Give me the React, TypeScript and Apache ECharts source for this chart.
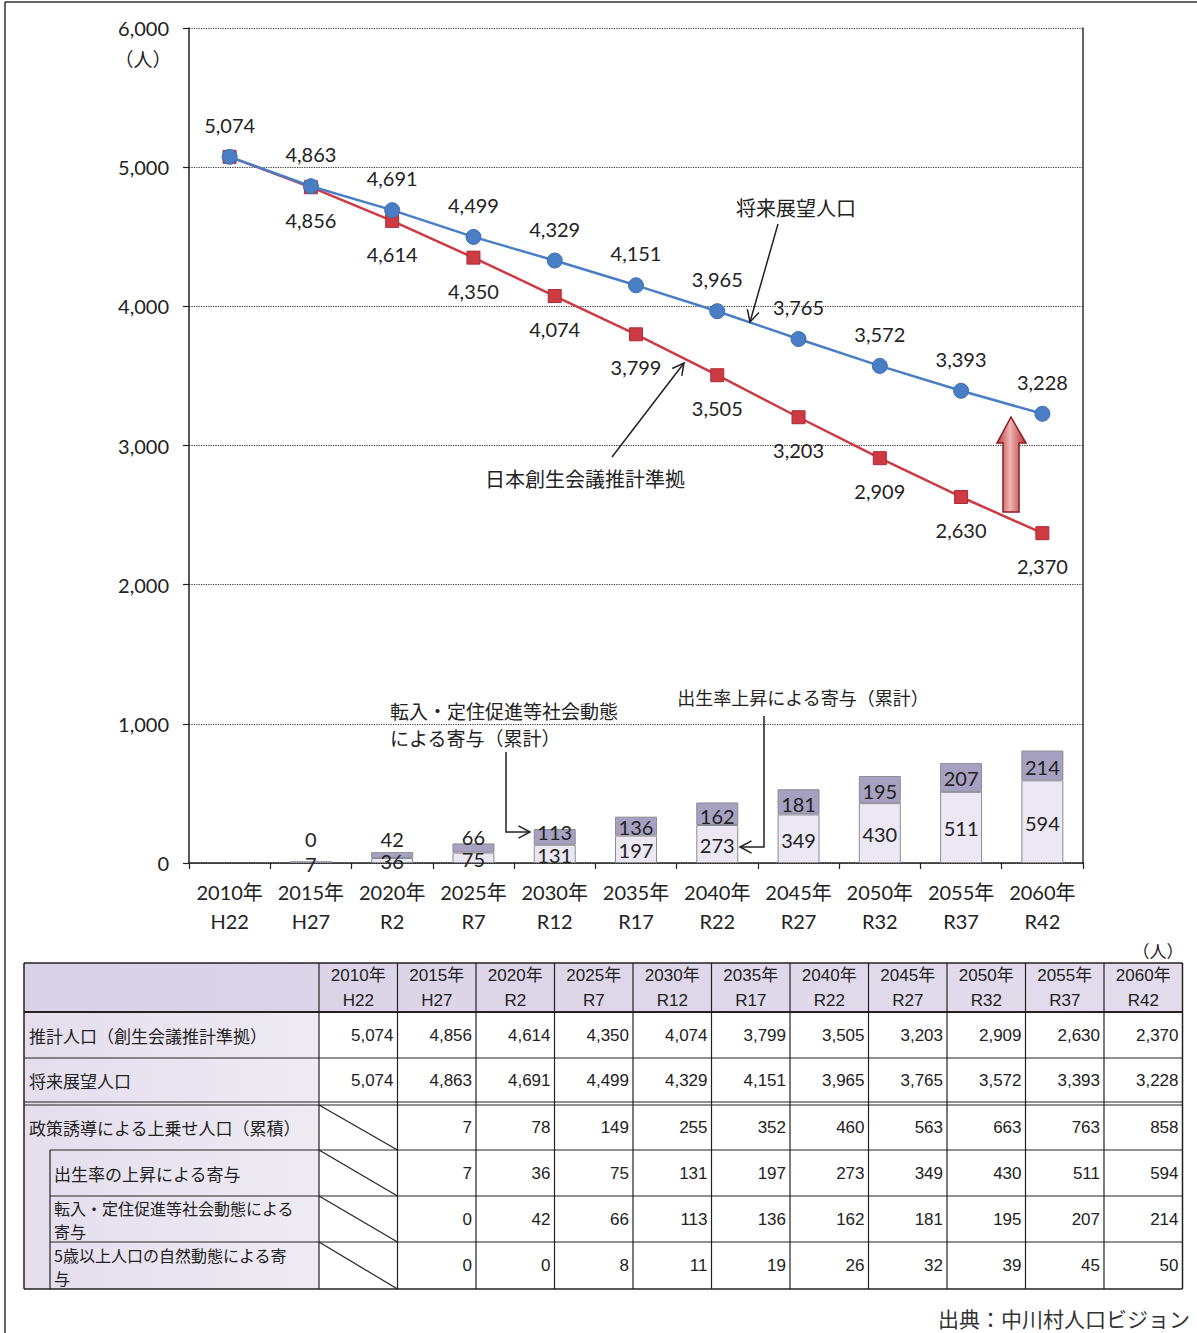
import React, { useEffect, useRef } from 'react';
import * as echarts from 'echarts';

const years = ['2010年', '2015年', '2020年', '2025年', '2030年', '2035年', '2040年', '2045年', '2050年', '2055年', '2060年'];
const eras = ['H22', 'H27', 'R2', 'R7', 'R12', 'R17', 'R22', 'R27', 'R32', 'R37', 'R42'];
const estimatedPop = [5074, 4856, 4614, 4350, 4074, 3799, 3505, 3203, 2909, 2630, 2370];
const visionPop = [5074, 4863, 4691, 4499, 4329, 4151, 3965, 3765, 3572, 3393, 3228];
const policyTotal = [null, 7, 78, 149, 255, 352, 460, 563, 663, 763, 858];
const birthContribution = [null, 7, 36, 75, 131, 197, 273, 349, 430, 511, 594];
const migrationContribution = [null, 0, 42, 66, 113, 136, 162, 181, 195, 207, 214];
const naturalContribution = [null, 0, 0, 8, 11, 19, 26, 32, 39, 45, 50];

const yMin = 0;
const yMax = 6000;
const yStep = 1000;

const nameEstimated = '日本創生会議推計準拠';
const nameVision = '将来展望人口';
const nameBirth = '出生率上昇による寄与（累計）';
const nameMigration1 = '転入・定住促進等社会動態';
const nameMigration2 = 'による寄与（累計）';
const sourceText = '出典：中川村人口ビジョン';

const tableRows = [
  { label: ['推計人口（創生会議推計準拠）'], values: estimatedPop, sub: false },
  { label: ['将来展望人口'], values: visionPop, sub: false },
  { label: ['政策誘導による上乗せ人口（累積）'], values: policyTotal, sub: false },
  { label: ['出生率の上昇による寄与'], values: birthContribution, sub: true },
  { label: ['転入・定住促進等社会動態による', '寄与'], values: migrationContribution, sub: true },
  { label: ['5歳以上人口の自然動態による寄', '与'], values: naturalContribution, sub: true },
];

// label nudges (styling only)
const migrationLabelDy = [0, -23, -16, -11, -5, 1, 2, 2, 1, 1, 2];

const FONT = 'Lato, "Noto Sans CJK JP", sans-serif';
const CJK = '"Noto Sans CJK JP", sans-serif';
const TFONT = '"Liberation Sans", Arial, sans-serif';
const INK = '#222';
const BLUE = '#4a7ec4';
const RED = '#cc3a44';

const fmt = (v: number) => v.toLocaleString('en-US');

function txt(x: number, y: number, text: string, size: number, family: string, align = 'center', extra: any = {}) {
  return {
    type: 'text',
    x,
    y,
    z: 100,
    style: {
      text,
      fill: INK,
      fontSize: size,
      fontFamily: family,
      align,
      textAlign: align,
      verticalAlign: 'middle',
      textVerticalAlign: 'middle',
      ...extra,
    },
  };
}

function ln(x1: number, y1: number, x2: number, y2: number, w = 1.2, color = INK) {
  return { type: 'line', z: 100, shape: { x1, y1, x2, y2 }, style: { stroke: color, lineWidth: w } };
}

function arrowHead(x1: number, y1: number, x2: number, y2: number, len = 13, ang = Math.PI / 6.5) {
  const t = Math.atan2(y2 - y1, x2 - x1);
  return {
    type: 'polyline',
    z: 100,
    shape: {
      points: [
        [x2 - len * Math.cos(t - ang), y2 - len * Math.sin(t - ang)],
        [x2, y2],
        [x2 - len * Math.cos(t + ang), y2 - len * Math.sin(t + ang)],
      ],
    },
    style: { stroke: INK, lineWidth: 1.5, fill: 'none' },
  };
}

function buildTable() {
  const els: any[] = [];
  const left = 24;
  const firstRight = 319;
  const colW = 78.5;
  const n = years.length;
  const right = firstRight + colW * n;
  const top = 963;
  const headBottom = 1012;
  const rowH = [46, 45, 45, 46, 46, 47];
  const rowTops: number[] = [];
  let y = headBottom;
  rowH.forEach((h, i) => {
    if (i === 2) y += 2;
    rowTops.push(y);
    y += h;
  });
  const bottom = y;
  const subX = 50;

  // backgrounds
  els.push({
    type: 'rect', z: 90, shape: { x: left, y: top, width: right - left, height: headBottom - top },
    style: { fill: new echarts.graphic.LinearGradient(0, 0, 1, 0, [{ offset: 0, color: '#d9d1e6' }, { offset: 1, color: '#e2dcec' }]) },
  });
  els.push({
    type: 'rect', z: 90, shape: { x: left, y: headBottom, width: firstRight - left, height: bottom - headBottom },
    style: { fill: new echarts.graphic.LinearGradient(0, 0, 1, 0, [{ offset: 0, color: '#e4deed' }, { offset: 1, color: '#eeebf3' }]) },
  });

  // horizontal lines
  els.push(ln(left, top, right, top, 1.5));
  els.push(ln(left, headBottom, right, headBottom, 2));
  rowTops.forEach((ry, i) => {
    if (i === 0) return;
    const x0 = tableRows[i].sub ? subX : left;
    if (i === 2) {
      els.push(ln(left, ry - 3, right, ry - 3, 1.2));
      els.push(ln(left, ry, right, ry, 1.2));
    } else {
      els.push(ln(x0, ry, right, ry, 1.2));
    }
  });
  els.push(ln(left, bottom, right, bottom, 1.5));

  // vertical lines
  els.push(ln(left, top, left, bottom, 1.5));
  for (let c = 0; c <= n; c++) {
    const x = firstRight + c * colW;
    els.push(ln(x, top, x, bottom, c === n ? 1.5 : 1.2));
  }
  els.push(ln(subX, rowTops[3], subX, bottom, 1.2));

  // header texts
  years.forEach((yr, c) => {
    const cx = firstRight + c * colW + colW / 2;
    els.push(txt(cx, 975, yr, 17, TFONT + ',' + CJK));
    els.push(txt(cx, 1000, eras[c], 17, TFONT));
  });

  // rows
  tableRows.forEach((row, i) => {
    const ry = rowTops[i];
    const h = rowH[i];
    const lx = row.sub ? subX + 4 : left + 5;
    if (row.label.length === 1) {
      els.push(txt(lx, ry + h / 2, row.label[0], 17, CJK, 'left'));
    } else {
      els.push(txt(lx, ry + h / 2 - 11, row.label[0], 16, CJK, 'left'));
      els.push(txt(lx, ry + h / 2 + 12, row.label[1], 16, CJK, 'left'));
    }
    row.values.forEach((v, c) => {
      const x0 = firstRight + c * colW;
      if (v === null) {
        els.push(ln(x0, ry, x0 + colW, ry + h, 1.2));
      } else {
        els.push(txt(x0 + colW - 4, ry + h / 2, fmt(v as number), 17, TFONT, 'right'));
      }
    });
  });

  els.push(txt(1158, 950, '（人）', 17, CJK));
  return els;
}

function buildOption() {
  const graphics: any[] = [
    // frame
    ln(5, 2, 1197, 2, 1.5, '#333'),
    ln(5, 2, 5, 1333, 1.5, '#333'),
    txt(143, 58, '（人）', 19, CJK),
    // annotations
    txt(796, 207, nameVision, 20, CJK),
    ln(778, 224, 750, 322, 1.5),
    arrowHead(778, 224, 750, 322),
    txt(585, 478, nameEstimated, 20, CJK),
    ln(612, 457, 684, 363, 1.5),
    arrowHead(612, 457, 684, 363),
    txt(390, 710, nameMigration1, 19, CJK, 'left'),
    txt(390, 737, nameMigration2, 19, CJK, 'left'),
    { type: 'polyline', z: 100, shape: { points: [[506, 752], [506, 832], [530, 832]] }, style: { stroke: INK, lineWidth: 1.5, fill: 'none' } },
    arrowHead(506, 832, 530, 832),
    txt(803, 697, nameBirth, 18, CJK),
    { type: 'polyline', z: 100, shape: { points: [[764, 716], [764, 847], [740, 847]] }, style: { stroke: INK, lineWidth: 1.5, fill: 'none' } },
    arrowHead(764, 847, 740, 847),
    // big up arrow
    {
      type: 'polygon',
      z: 100,
      shape: {
        points: [
          [1003, 512], [1003, 443], [997, 443], [1011, 417], [1026, 443], [1019, 443], [1019, 512],
        ],
      },
      style: {
        fill: new echarts.graphic.LinearGradient(0, 0, 1, 0, [
          { offset: 0, color: '#b83a3c' },
          { offset: 0.45, color: '#f0b4b4' },
          { offset: 1, color: '#b32f33' },
        ]),
        stroke: '#8a1c20',
        lineWidth: 1.5,
      },
    },
    ...buildTable(),
    txt(1190, 1318, sourceText, 21, CJK, 'right', { fill: '#333' }),
  ];

  return {
    animation: false,
    backgroundColor: '#fff',
    textStyle: { fontFamily: FONT },
    grid: { left: 189, right: 114, top: 28, bottom: 470, containLabel: false },
    xAxis: {
      type: 'category',
      data: years,
      boundaryGap: true,
      axisLine: { show: true, lineStyle: { color: '#222', width: 1.5 } },
      axisTick: { show: true, length: 6, lineStyle: { color: '#222', width: 1.2 } },
      axisLabel: {
        interval: 0,
        margin: 14,
        color: INK,
        fontSize: 20,
        lineHeight: 29,
        fontFamily: FONT,
        formatter: (v: string, i: number) => v + '\n' + eras[i],
      },
      splitLine: { show: false },
    },
    yAxis: [
      {
        type: 'value',
        min: yMin,
        max: yMax,
        interval: yStep,
        axisLine: { show: true, lineStyle: { color: '#222', width: 1.5 } },
        axisTick: { show: true, length: 6, lineStyle: { color: '#222', width: 1.2 } },
        axisLabel: { color: INK, fontSize: 20, margin: 20, fontFamily: FONT, formatter: (v: number) => fmt(v) },
        splitLine: { show: true, lineStyle: { type: 'dotted', color: '#333', width: 1.2 } },
      },
      {
        type: 'value',
        min: yMin,
        max: yMax,
        interval: yStep,
        position: 'right',
        axisLine: { show: true, onZero: false, lineStyle: { color: '#333', width: 1.5 } },
        axisTick: { show: false },
        axisLabel: { show: false },
        splitLine: { show: false },
      },
    ],
    series: [
      {
        name: '出生率の上昇による寄与',
        type: 'bar',
        stack: 'policy',
        barWidth: 42,
        z: 2,
        itemStyle: { color: '#ebe7f3', borderColor: '#8c8c94', borderWidth: 1 },
        label: { show: true, position: 'inside', color: INK, fontSize: 20, fontFamily: FONT, offset: [0, 1] },
        data: birthContribution.map((v) => (v === null ? '-' : v)),
      },
      {
        name: '転入・定住促進等社会動態による寄与',
        type: 'bar',
        stack: 'policy',
        barWidth: 42,
        z: 2,
        itemStyle: { color: '#a7a1c1', borderColor: '#8c8c94', borderWidth: 1 },
        label: { show: true, position: 'inside', color: INK, fontSize: 20, fontFamily: FONT },
        data: migrationContribution.map((v, i) =>
          v === null ? '-' : { value: v, label: { offset: [0, migrationLabelDy[i]] } }
        ),
      },
      {
        name: nameEstimated,
        type: 'line',
        z: 5,
        symbol: 'rect',
        symbolSize: 13,
        lineStyle: { color: RED, width: 2.5 },
        itemStyle: { color: RED, borderColor: '#b02a35', borderWidth: 1 },
        label: {
          show: true, position: 'bottom', distance: 16, color: INK, fontSize: 20, fontFamily: FONT,
          formatter: (p: any) => fmt(p.value),
        },
        data: estimatedPop.map((v, i) => (i === 0 ? { value: v, label: { show: false } } : v)),
      },
      {
        name: nameVision,
        type: 'line',
        z: 6,
        symbol: 'circle',
        symbolSize: 15,
        lineStyle: { color: BLUE, width: 2.5 },
        itemStyle: { color: BLUE, borderColor: '#3d6fb0', borderWidth: 1 },
        label: {
          show: true, position: 'top', distance: 14, color: INK, fontSize: 20, fontFamily: FONT,
          formatter: (p: any) => fmt(p.value),
        },
        data: visionPop,
      },
    ],
    graphic: { elements: graphics },
  };
}

export default function App() {
  const ref = useRef<HTMLDivElement>(null);
  useEffect(() => {
    document.body.style.margin = '0';
    const chart = echarts.init(ref.current as HTMLDivElement, null, { renderer: 'svg' });
    chart.setOption(buildOption() as any);
    return () => chart.dispose();
  }, []);
  return <div ref={ref} style={{ width: 1197, height: 1333, background: '#fff' }} />;
}
